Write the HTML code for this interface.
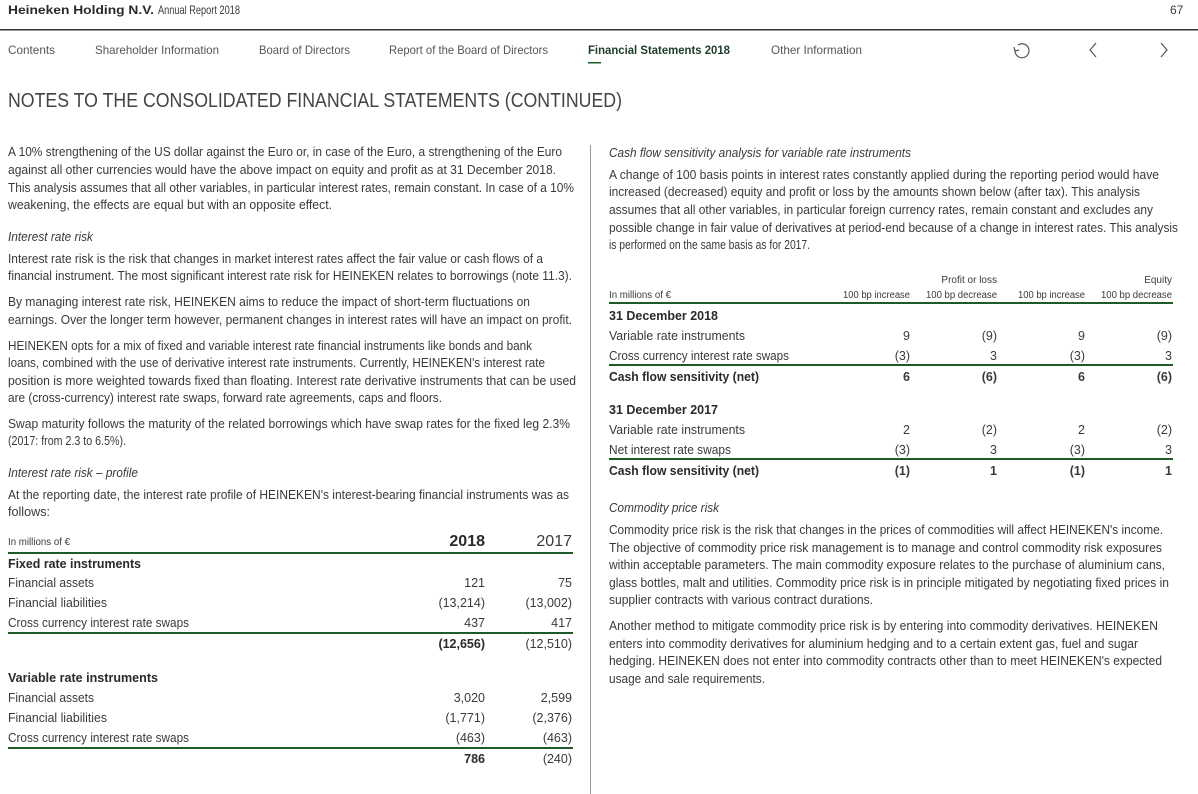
<!DOCTYPE html>
<html><head><meta charset="utf-8"><style>
html,body{margin:0;padding:0;background:#fff}
svg{display:block}
text{font-family:"Liberation Sans",sans-serif;fill:#3a3a3a}
.b{font-size:12.5px}
.i{font-size:12.5px;font-style:italic}
.bd{font-weight:bold;fill:#2a2a2a}
.s{font-size:10px}
.n{font-size:12px;fill:#555}
</style></head><body>
<svg width="1198" height="794" viewBox="0 0 1198 794" xmlns="http://www.w3.org/2000/svg">
<text x="8" y="14" font-size="12" class="bd" textLength="146" lengthAdjust="spacingAndGlyphs">Heineken Holding N.V.</text>
<text x="158" y="14" font-size="12" textLength="82" lengthAdjust="spacingAndGlyphs">Annual Report 2018</text>
<text x="1170" y="14" font-size="12">67</text>
<rect x="0" y="29" width="1198" height="1.5" fill="#333"/>
<g font-size="12">
<text x="8" y="54" class="n" textLength="47" lengthAdjust="spacingAndGlyphs">Contents</text>
<text x="95" y="54" class="n" textLength="124" lengthAdjust="spacingAndGlyphs">Shareholder Information</text>
<text x="259" y="54" class="n" textLength="91" lengthAdjust="spacingAndGlyphs">Board of Directors</text>
<text x="389" y="54" class="n" textLength="159" lengthAdjust="spacingAndGlyphs">Report of the Board of Directors</text>
<text x="588" y="54" style="font-weight:bold;fill:#1e3d2a" textLength="142" lengthAdjust="spacingAndGlyphs">Financial Statements 2018</text>
<text x="771" y="54" class="n" textLength="91" lengthAdjust="spacingAndGlyphs">Other Information</text>
</g>
<rect x="588" y="62" width="13" height="1.5" fill="#1e5a2a"/>
<g fill="none" stroke="#555" stroke-width="1.2">
<path d="M1015 51 a7 7 0 1 0 3 -6"/><path d="M1014 47 l1 4 4 -1"/>
<path d="M1096 43 l-6 7 6 7"/><path d="M1161 43 l6 7 -6 7"/>
</g>
<text x="8" y="107" font-size="20" style="fill:#444" textLength="614" lengthAdjust="spacingAndGlyphs">NOTES TO THE CONSOLIDATED FINANCIAL STATEMENTS (CONTINUED)</text>
<rect x="590" y="145" width="1" height="649" fill="#999"/>
<g class="b">
<text x="8" y="156" textLength="554" lengthAdjust="spacingAndGlyphs">A 10% strengthening of the US dollar against the Euro or, in case of the Euro, a strengthening of the Euro</text>
<text x="8" y="174" textLength="548" lengthAdjust="spacingAndGlyphs">against all other currencies would have the above impact on equity and profit as at 31 December 2018.</text>
<text x="8" y="192" textLength="566" lengthAdjust="spacingAndGlyphs">This analysis assumes that all other variables, in particular interest rates, remain constant. In case of a 10%</text>
<text x="8" y="209" textLength="324" lengthAdjust="spacingAndGlyphs">weakening, the effects are equal but with an opposite effect.</text>
<text x="8" y="241" class="i" textLength="85" lengthAdjust="spacingAndGlyphs">Interest rate risk</text>
<text x="8" y="263" textLength="535" lengthAdjust="spacingAndGlyphs">Interest rate risk is the risk that changes in market interest rates affect the fair value or cash flows of a</text>
<text x="8" y="280" textLength="564" lengthAdjust="spacingAndGlyphs">financial instrument.  The most significant interest rate risk for HEINEKEN relates to borrowings (note 11.3).</text>
<text x="8" y="306" textLength="522" lengthAdjust="spacingAndGlyphs">By managing interest rate risk, HEINEKEN aims to reduce the impact of short-term fluctuations on</text>
<text x="8" y="324" textLength="564" lengthAdjust="spacingAndGlyphs">earnings. Over the longer term however, permanent changes in interest rates will have an impact on profit.</text>
<text x="8" y="350" textLength="524" lengthAdjust="spacingAndGlyphs">HEINEKEN opts for a mix of fixed and variable interest  rate financial instruments like bonds and bank</text>
<text x="8" y="367" textLength="537" lengthAdjust="spacingAndGlyphs">loans, combined with the use of derivative interest rate instruments. Currently, HEINEKEN's interest rate</text>
<text x="8" y="385" textLength="568" lengthAdjust="spacingAndGlyphs">position is more weighted towards fixed than floating. Interest rate derivative instruments that can be used</text>
<text x="8" y="402" textLength="434" lengthAdjust="spacingAndGlyphs">are (cross-currency) interest rate swaps, forward rate agreements, caps and floors.</text>
<text x="8" y="428" textLength="562" lengthAdjust="spacingAndGlyphs">Swap maturity follows the maturity of the related borrowings which have swap rates for the fixed leg 2.3%</text>
<text x="8" y="445" textLength="118" lengthAdjust="spacingAndGlyphs">(2017: from 2.3 to 6.5%).</text>
<text x="8" y="477" class="i" textLength="130" lengthAdjust="spacingAndGlyphs">Interest rate risk – profile</text>
<text x="8" y="499" textLength="561" lengthAdjust="spacingAndGlyphs">At the reporting date, the interest rate profile of HEINEKEN's interest-bearing financial instruments was as</text>
<text x="8" y="516" textLength="42" lengthAdjust="spacingAndGlyphs">follows:</text>
</g>
<!-- left table -->
<text x="8" y="545" class="s" textLength="62" lengthAdjust="spacingAndGlyphs">In millions of €</text>
<text x="485" y="546" font-size="16" class="bd" text-anchor="end">2018</text>
<text x="572" y="546" font-size="16" text-anchor="end">2017</text>
<rect x="8" y="552" width="565" height="2" fill="#1e5a2a"/>
<rect x="8" y="632" width="565" height="2" fill="#1e5a2a"/>
<rect x="8" y="747" width="565" height="2" fill="#1e5a2a"/>
<g class="b">
<text x="8" y="568" class="bd" textLength="133" lengthAdjust="spacingAndGlyphs">Fixed rate instruments</text>
<text x="8" y="587" textLength="86" lengthAdjust="spacingAndGlyphs">Financial assets</text>
<text x="8" y="607" textLength="99" lengthAdjust="spacingAndGlyphs">Financial liabilities</text>
<text x="8" y="627" textLength="181" lengthAdjust="spacingAndGlyphs">Cross currency interest rate swaps</text>
<text x="8" y="682" class="bd" textLength="150" lengthAdjust="spacingAndGlyphs">Variable rate instruments</text>
<text x="8" y="702" textLength="86" lengthAdjust="spacingAndGlyphs">Financial assets</text>
<text x="8" y="722" textLength="99" lengthAdjust="spacingAndGlyphs">Financial liabilities</text>
<text x="8" y="742" textLength="181" lengthAdjust="spacingAndGlyphs">Cross currency interest rate swaps</text>
</g>
<g class="b" text-anchor="end">
<text x="485" y="587">121</text><text x="572" y="587">75</text>
<text x="485" y="607">(13,214)</text><text x="572" y="607">(13,002)</text>
<text x="485" y="627">437</text><text x="572" y="627">417</text>
<text x="485" y="648" class="bd">(12,656)</text><text x="572" y="648">(12,510)</text>
<text x="485" y="702">3,020</text><text x="572" y="702">2,599</text>
<text x="485" y="722">(1,771)</text><text x="572" y="722">(2,376)</text>
<text x="485" y="742">(463)</text><text x="572" y="742">(463)</text>
<text x="485" y="763" class="bd">786</text><text x="572" y="763">(240)</text>
</g>
<!-- right column -->
<g class="b">
<text x="609" y="157" class="i" textLength="302" lengthAdjust="spacingAndGlyphs">Cash flow sensitivity analysis for variable rate instruments</text>
<text x="609" y="179" textLength="550" lengthAdjust="spacingAndGlyphs">A change of 100 basis points in interest rates constantly applied during the reporting period would have</text>
<text x="609" y="196" textLength="531" lengthAdjust="spacingAndGlyphs">increased (decreased) equity and profit or loss by the amounts shown below (after tax). This analysis</text>
<text x="609" y="214" textLength="544" lengthAdjust="spacingAndGlyphs">assumes that all other variables, in particular foreign currency rates, remain constant and excludes any</text>
<text x="609" y="232" textLength="569" lengthAdjust="spacingAndGlyphs">possible change in fair value of derivatives at period-end because of a change in interest rates. This analysis</text>
<text x="609" y="249" textLength="201" lengthAdjust="spacingAndGlyphs">is performed on the same basis as for 2017.</text>
</g>
<g class="s" text-anchor="end">
<text x="997" y="283">Profit or loss</text><text x="1172" y="283">Equity</text>
<text x="910" y="298" textLength="67" lengthAdjust="spacingAndGlyphs">100 bp increase</text>
<text x="997" y="298" textLength="71" lengthAdjust="spacingAndGlyphs">100 bp decrease</text>
<text x="1085" y="298" textLength="67" lengthAdjust="spacingAndGlyphs">100 bp increase</text>
<text x="1172" y="298" textLength="71" lengthAdjust="spacingAndGlyphs">100 bp decrease</text>
</g>
<text x="609" y="298" class="s" textLength="62" lengthAdjust="spacingAndGlyphs">In millions of €</text>
<rect x="609" y="302" width="564" height="2" fill="#1e5a2a"/>
<rect x="609" y="364" width="564" height="2" fill="#1e5a2a"/>
<rect x="609" y="458" width="564" height="2" fill="#1e5a2a"/>
<g class="b">
<text x="609" y="320" class="bd" textLength="109" lengthAdjust="spacingAndGlyphs">31 December 2018</text>
<text x="609" y="340" textLength="136" lengthAdjust="spacingAndGlyphs">Variable rate instruments</text>
<text x="609" y="360" textLength="180" lengthAdjust="spacingAndGlyphs">Cross currency interest rate swaps</text>
<text x="609" y="381" class="bd" textLength="150" lengthAdjust="spacingAndGlyphs">Cash flow sensitivity (net)</text>
<text x="609" y="414" class="bd" textLength="109" lengthAdjust="spacingAndGlyphs">31 December 2017</text>
<text x="609" y="434" textLength="136" lengthAdjust="spacingAndGlyphs">Variable rate instruments</text>
<text x="609" y="454" textLength="122" lengthAdjust="spacingAndGlyphs">Net interest rate swaps</text>
<text x="609" y="475" class="bd" textLength="150" lengthAdjust="spacingAndGlyphs">Cash flow sensitivity (net)</text>
</g>
<g class="b" text-anchor="end">
<text x="910" y="340">9</text><text x="997" y="340">(9)</text><text x="1085" y="340">9</text><text x="1172" y="340">(9)</text>
<text x="910" y="360">(3)</text><text x="997" y="360">3</text><text x="1085" y="360">(3)</text><text x="1172" y="360">3</text>
<g class="bd"><text x="910" y="381">6</text><text x="997" y="381">(6)</text><text x="1085" y="381">6</text><text x="1172" y="381">(6)</text></g>
<text x="910" y="434">2</text><text x="997" y="434">(2)</text><text x="1085" y="434">2</text><text x="1172" y="434">(2)</text>
<text x="910" y="454">(3)</text><text x="997" y="454">3</text><text x="1085" y="454">(3)</text><text x="1172" y="454">3</text>
<g class="bd"><text x="910" y="475">(1)</text><text x="997" y="475">1</text><text x="1085" y="475">(1)</text><text x="1172" y="475">1</text></g>
</g>
<g class="b">
<text x="609" y="512" class="i" textLength="110" lengthAdjust="spacingAndGlyphs">Commodity price risk</text>
<text x="609" y="534" textLength="554" lengthAdjust="spacingAndGlyphs">Commodity price risk is the risk that changes in the prices of commodities will affect HEINEKEN's income.</text>
<text x="609" y="552" textLength="553" lengthAdjust="spacingAndGlyphs">The objective of commodity price risk management is to manage and control commodity risk exposures</text>
<text x="609" y="569" textLength="556" lengthAdjust="spacingAndGlyphs">within acceptable parameters. The main commodity exposure relates to the purchase of aluminium cans,</text>
<text x="609" y="587" textLength="560" lengthAdjust="spacingAndGlyphs">glass bottles, malt and utilities. Commodity price risk is in principle mitigated by negotiating fixed prices in</text>
<text x="609" y="604" textLength="264" lengthAdjust="spacingAndGlyphs">supplier contracts with various contract durations.</text>
<text x="609" y="630" textLength="549" lengthAdjust="spacingAndGlyphs">Another method to mitigate commodity price risk is by entering into commodity derivatives. HEINEKEN</text>
<text x="609" y="648" textLength="529" lengthAdjust="spacingAndGlyphs">enters into commodity derivatives for aluminium hedging and to a certain extent gas, fuel and sugar</text>
<text x="609" y="665" textLength="553" lengthAdjust="spacingAndGlyphs">hedging. HEINEKEN does not enter into commodity contracts other than to meet HEINEKEN's expected</text>
<text x="609" y="683" textLength="156" lengthAdjust="spacingAndGlyphs">usage and sale requirements.</text>
</g>
</svg>
</body></html>
